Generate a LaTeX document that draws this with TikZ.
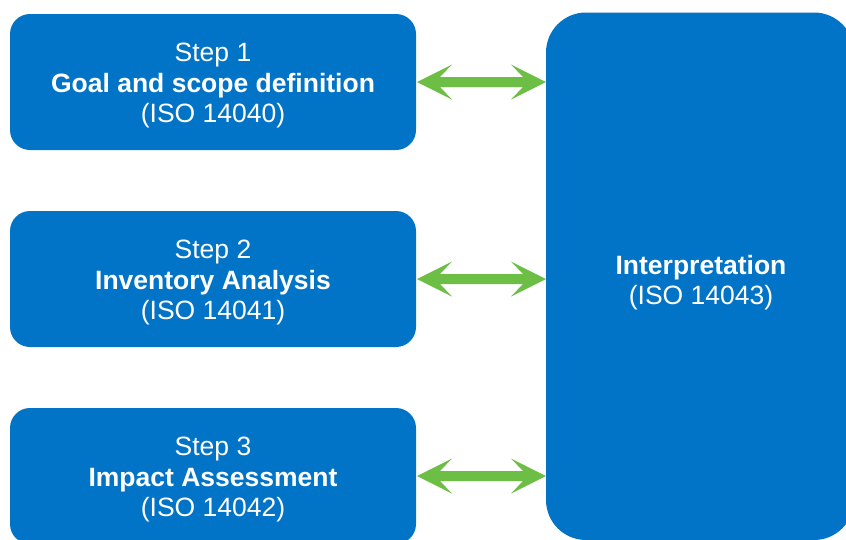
\documentclass[tikz,border=0pt]{standalone}
\usepackage{fontspec}
\setmainfont{Liberation Sans}
\usetikzlibrary{calc}
\definecolor{boxblue}{RGB}{2,116,200}
\definecolor{arrowgreen}{RGB}{108,190,69}
\newcommand\mytopstrut{\rule{0pt}{26pt}}
\begin{document}
\begin{tikzpicture}[x=1pt,y=-1pt,
  boxtext/.style={text=white, align=center, font=\fontsize{26.5}{30.5}\selectfont},
  stepbox/.style={boxtext, fill=boxblue, rounded corners=20pt, minimum width=406pt,
    minimum height=136pt, inner sep=0pt, outer sep=0pt},
  interpbox/.style={fill=boxblue, rounded corners=40pt, minimum width=308pt,
    minimum height=527.5pt, inner sep=0pt, outer sep=0pt},
  dblarrow/.style={fill=arrowgreen}]
\clip (0,0) rectangle (846,539);
\node[stepbox] (s1) at (213,82) {\mytopstrut Step 1\\\textbf{Goal and scope definition}\\(ISO 14040)};
\node[stepbox] (s2) at (213,279) {\mytopstrut Step 2\\\textbf{Inventory Analysis}\\(ISO 14041)};
\node[stepbox] (s3) at (213,476) {\mytopstrut Step 3\\\textbf{Impact Assessment}\\(ISO 14042)};
\node[interpbox] (interp) at (700,276.25) {};
\node[boxtext] (interptext) at (701,282.5) {\textbf{Interpretation}\\(ISO 14043)};
\foreach \s in {s1,s2,s3}{
  \fill[dblarrow] let \p1=(\s.east), \p2=(interp.west |- \s.east) in
    (\x1+1pt,\y1) -- (\x1+36pt,\y1+17.5pt) -- (\x1+24pt,\y1+5pt)
    -- (\x2-23pt,\y1+5pt) -- (\x2-35pt,\y1+17.5pt) -- (\x2,\y1)
    -- (\x2-35pt,\y1-17.5pt) -- (\x2-23pt,\y1-5pt)
    -- (\x1+24pt,\y1-5pt) -- (\x1+36pt,\y1-17.5pt) -- cycle;
}
\end{tikzpicture}
\end{document}
